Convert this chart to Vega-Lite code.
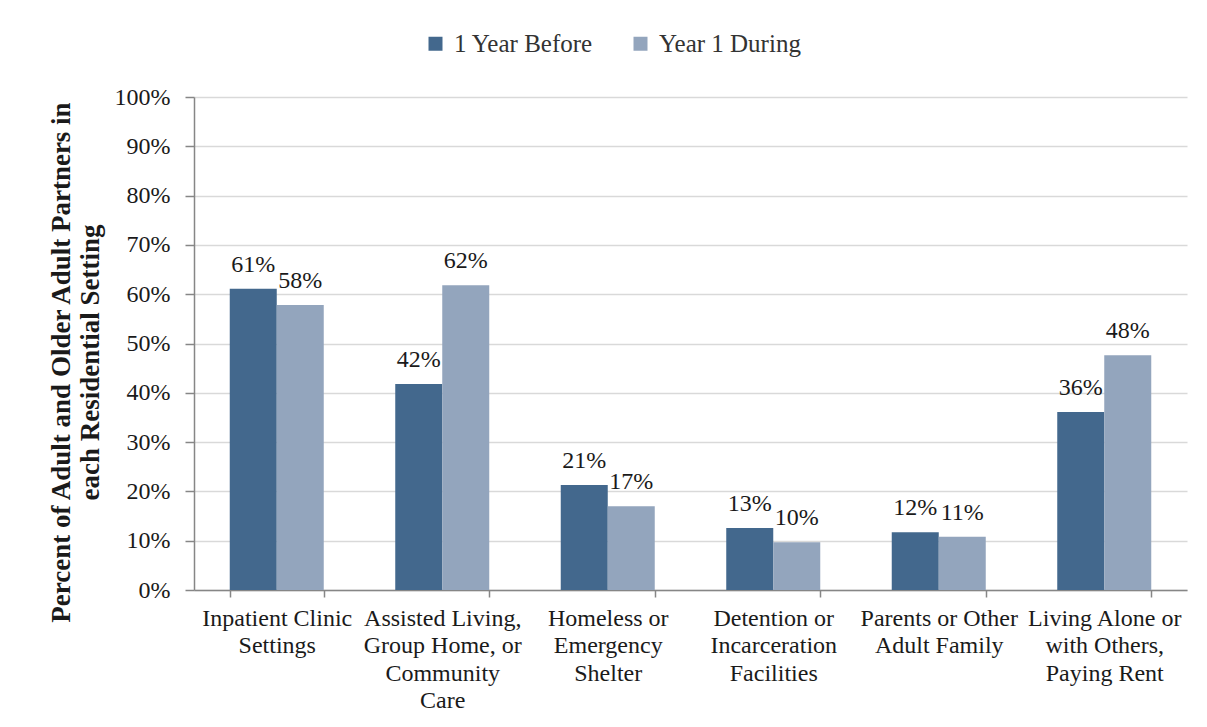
{
  "$schema": "https://vega.github.io/schema/vega-lite/v6.json",
  "width": 993,
  "height": 493,
  "autosize": {"type": "none"},
  "padding": {"left": 194, "top": 97, "right": 20, "bottom": 137},
  "background": "white",
  "config": {
    "font": "Liberation Serif",
    "view": {"stroke": null},
    "axis": {"labelFont": "Liberation Serif", "titleFont": "Liberation Serif", "labelColor": "#1a1a1a", "titleColor": "#1a1a1a"}
  },
  "data": {
    "values": [
      {"setting": "Inpatient Clinic Settings", "period": "1 Year Before", "pct": 0.611},
      {"setting": "Inpatient Clinic Settings", "period": "Year 1 During", "pct": 0.578},
      {"setting": "Assisted Living, Group Home, or Community Care", "period": "1 Year Before", "pct": 0.418},
      {"setting": "Assisted Living, Group Home, or Community Care", "period": "Year 1 During", "pct": 0.618},
      {"setting": "Homeless or Emergency Shelter", "period": "1 Year Before", "pct": 0.213},
      {"setting": "Homeless or Emergency Shelter", "period": "Year 1 During", "pct": 0.170},
      {"setting": "Detention or Incarceration Facilities", "period": "1 Year Before", "pct": 0.126},
      {"setting": "Detention or Incarceration Facilities", "period": "Year 1 During", "pct": 0.097},
      {"setting": "Parents or Other Adult Family", "period": "1 Year Before", "pct": 0.117},
      {"setting": "Parents or Other Adult Family", "period": "Year 1 During", "pct": 0.108},
      {"setting": "Living Alone or with Others, Paying Rent", "period": "1 Year Before", "pct": 0.361},
      {"setting": "Living Alone or with Others, Paying Rent", "period": "Year 1 During", "pct": 0.476}
    ]
  },
  "encoding": {
    "x": {
      "field": "setting",
      "type": "nominal",
      "sort": null,
      "scale": {"paddingInner": 0.432, "paddingOuter": 0.216},
      "axis": {
        "title": null,
        "labelAngle": 0,
        "labelFontSize": 24,
        "labelLineHeight": 27.5,
        "labelPadding": 9,
        "labelBaseline": "top",
        "labelLimit": 0,
        "tickBand": "extent",
        "tickExtra": true,
        "tickSize": 7,
        "tickColor": "#868686",
        "tickWidth": 1.5,
        "domainColor": "#868686",
        "domainWidth": 1.5,
        "grid": false,
        "labelExpr": "({'Inpatient Clinic Settings': ['Inpatient Clinic','Settings'], 'Assisted Living, Group Home, or Community Care': ['Assisted Living,','Group Home, or','Community','Care'], 'Homeless or Emergency Shelter': ['Homeless or','Emergency','Shelter'], 'Detention or Incarceration Facilities': ['Detention or','Incarceration','Facilities'], 'Parents or Other Adult Family': ['Parents or Other','Adult Family'], 'Living Alone or with Others, Paying Rent': ['Living Alone or','with Others,','Paying Rent']})[datum.value]"
      }
    },
    "xOffset": {"field": "period", "type": "nominal", "sort": ["1 Year Before", "Year 1 During"]},
    "y": {
      "field": "pct",
      "type": "quantitative",
      "scale": {"domain": [0, 1], "nice": false},
      "axis": {
        "title": ["Percent of Adult and Older Adult Partners in", "each Residential Setting"],
        "titleFontSize": 27,
        "titleFontWeight": "bold",
        "titleLineHeight": 29,
        "titlePadding": 10,
        "titleY": 265,
        "values": [0, 0.1, 0.2, 0.3, 0.4, 0.5, 0.6, 0.7, 0.8, 0.9, 1],
        "format": ".0%",
        "labelFontSize": 24,
        "labelPadding": 15,
        "tickSize": 9,
        "tickColor": "#868686",
        "tickWidth": 1.5,
        "domainColor": "#868686",
        "domainWidth": 1.5,
        "gridColor": "#d9d9d9",
        "gridWidth": 1.5
      }
    }
  },
  "layer": [
    {
      "mark": {"type": "bar"},
      "encoding": {
        "color": {
          "field": "period",
          "type": "nominal",
          "sort": ["1 Year Before", "Year 1 During"],
          "scale": {"domain": ["1 Year Before", "Year 1 During"], "range": ["#43688D", "#93A5BD"]},
          "legend": {
            "title": null,
            "orient": "none",
            "direction": "horizontal",
            "legendX": 229,
            "legendY": -66,
            "symbolType": "square",
            "symbolSize": 196,
            "symbolStrokeWidth": 0,
            "labelFontSize": 25,
            "labelFont": "Liberation Serif",
            "labelColor": "#333333",
            "labelOffset": 6,
            "columnPadding": 34
          }
        }
      }
    },
    {
      "mark": {"type": "text", "baseline": "alphabetic", "dy": -17, "fontSize": 24, "font": "Liberation Serif", "color": "#1a1a1a"},
      "encoding": {
        "text": {"field": "pct", "type": "quantitative", "format": ".0%"}
      }
    }
  ]
}
